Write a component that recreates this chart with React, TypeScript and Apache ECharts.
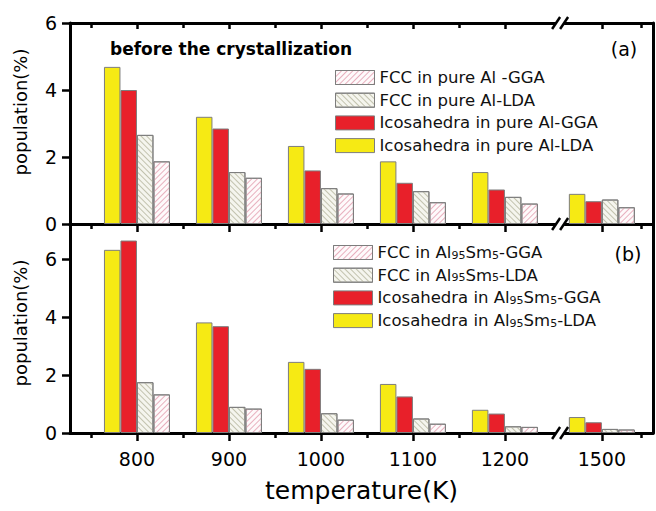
import React, { useEffect, useRef } from 'react';
import * as echarts from 'echarts';

// ---------- data ----------
const temperatures = ['800', '900', '1000', '1100', '1200', '1500'];

// panel (a): before the crystallization, pure Al
const seriesNamesA = [
  'Icosahedra in pure Al-LDA',
  'Icosahedra in pure Al-GGA',
  'FCC in pure Al-LDA',
  'FCC in pure Al -GGA',
];
const icoLdaA = [4.69, 3.2, 2.33, 1.87, 1.55, 0.9];
const icoGgaA = [4.0, 2.85, 1.6, 1.23, 1.03, 0.68];
const fccLdaA = [2.66, 1.55, 1.07, 0.98, 0.81, 0.73];
const fccGgaA = [1.87, 1.38, 0.91, 0.65, 0.61, 0.5];

// panel (b): Al95Sm5
const seriesNamesB = [
  'Icosahedra in Al95Sm5-LDA',
  'Icosahedra in Al95Sm5-GGA',
  'FCC in Al95Sm5-LDA',
  'FCC in Al95Sm5-GGA',
];
const icoLdaB = [6.31, 3.81, 2.45, 1.69, 0.8, 0.55];
const icoGgaB = [6.63, 3.68, 2.21, 1.26, 0.67, 0.37];
const fccLdaB = [1.75, 0.9, 0.68, 0.5, 0.23, 0.14];
const fccGgaB = [1.33, 0.84, 0.46, 0.32, 0.21, 0.12];

const yTickValues = [0, 2, 4, 6];

// ---------- layout helpers ----------
const FONT = 'DejaVu Sans';
const BREAK_AFTER = 4; // axis break after the 1200 K slot
const BREAK_SHIFT = 0.054;
const slotPos = (i: number) => i + (i > BREAK_AFTER ? BREAK_SHIFT : 0);
const BREAK_POS = 4.6;
const X_MIN = -0.728;
const X_MAX = 5.61;
const majorX = temperatures.map((_, i) => slotPos(i));
const minorX = [-0.5, 0.5, 1.5, 2.5, 3.5, slotPos(5) + 0.43];

const YELLOW = '#f6ea14';
const RED = '#e8202a';
const BORDER = '#7d7d7d';

const styles = [
  { color: YELLOW, borderColor: BORDER, borderWidth: 1 },
  { color: RED, borderColor: BORDER, borderWidth: 1 },
  {
    color: '#f5f5ee',
    borderColor: BORDER,
    borderWidth: 1,
    decal: {
      symbol: 'rect',
      symbolSize: 1,
      dashArrayX: [1, 0],
      dashArrayY: [0.8, 3],
      rotation: Math.PI / 4,
      color: '#c2c2ae',
    },
  },
  {
    color: '#fefafb',
    borderColor: BORDER,
    borderWidth: 1,
    decal: {
      symbol: 'rect',
      symbolSize: 1,
      dashArrayX: [1, 0],
      dashArrayY: [0.8, 3],
      rotation: -Math.PI / 4,
      color: '#e8b0be',
    },
  },
];

const toPairs = (vals: number[]) => vals.map((v, i) => [slotPos(i), v]);

const mkSeries = (names: string[], values: number[][], xIdx: number, yIdx: number) =>
  names.map((name, k) => ({
    type: 'bar',
    name,
    data: toPairs(values[k]),
    xAxisIndex: xIdx,
    yAxisIndex: yIdx,
    barWidth: 16.5,
    barGap: '0%',
    itemStyle: styles[k],
    emphasis: { disabled: true },
  }));

const LINE = { show: true, onZero: false, lineStyle: { color: '#000', width: 3 } };
const NOLINE = { show: false, onZero: false };

const xBase = (gridIndex: number, position: string) => ({
  type: 'value',
  gridIndex,
  position,
  min: X_MIN,
  max: X_MAX,
  splitLine: { show: false },
  axisLabel: { show: false },
  axisTick: { show: false },
  axisLine: NOLINE,
});

const tickOpt = (values: number[], length: number, inside: boolean) => ({
  show: true,
  customValues: values,
  length,
  inside,
  lineStyle: { color: '#000', width: 2.5 },
});

const yBase = (gridIndex: number, max: number, position: string, withLabels: boolean) => ({
  type: 'value',
  gridIndex,
  position,
  min: 0,
  max,
  splitLine: { show: false },
  axisLine: LINE,
  axisTick: withLabels ? tickOpt(yTickValues, 8, false) : { show: false },
  axisLabel: withLabels
    ? {
        show: true,
        customValues: yTickValues,
        margin: 13,
        fontFamily: FONT,
        fontSize: 19,
        color: '#000',
      }
    : { show: false },
});

const legendBase = {
  orient: 'vertical',
  icon: 'rect',
  itemWidth: 39,
  itemHeight: 14,
  itemGap: 5.7,
  padding: 0,
  selectedMode: false,
  itemStyle: { borderWidth: 1, borderColor: BORDER },
  textStyle: {
    fontFamily: FONT,
    fontSize: 16.5,
    color: '#111',
    lineHeight: 16,
    rich: {
      s: { fontFamily: FONT, fontSize: 11, color: '#111', verticalAlign: 'bottom', lineHeight: 12 },
    },
  },
};

const option: any = {
  animation: false,
  backgroundColor: '#fff',
  grid: [
    { left: 70, right: 3, top: 23, height: 201 },
    { left: 70, right: 3, top: 224, height: 209 },
  ],
  xAxis: [
    // panel a
    { ...xBase(0, 'bottom'), axisLine: LINE, axisTick: tickOpt(majorX, 8, false) },
    { ...xBase(0, 'bottom'), axisTick: tickOpt(minorX, 5, false) },
    { ...xBase(0, 'top'), axisLine: LINE, axisTick: tickOpt(majorX, 6, true) },
    { ...xBase(0, 'top'), axisTick: tickOpt(minorX, 5, true) },
    // panel b
    {
      ...xBase(1, 'bottom'),
      axisLine: LINE,
      axisTick: tickOpt(majorX, 8, false),
      axisLabel: {
        show: true,
        customValues: majorX,
        formatter: (v: number) => {
          const i = majorX.findIndex((p) => Math.abs(p - v) < 1e-6);
          return i >= 0 ? temperatures[i] : '';
        },
        margin: 16,
        fontFamily: FONT,
        fontSize: 19,
        color: '#000',
      },
      name: 'temperature(K)',
      nameLocation: 'middle',
      nameGap: 45,
      nameTextStyle: { fontFamily: FONT, fontSize: 25, color: '#000' },
    },
    { ...xBase(1, 'bottom'), axisTick: tickOpt(minorX, 5, false) },
    { ...xBase(1, 'top'), axisLine: LINE },
  ],
  yAxis: [
    yBase(0, 6, 'left', true),
    yBase(1, 7.2, 'left', true),
    yBase(0, 6, 'right', false),
    yBase(1, 7.2, 'right', false),
  ],
  legend: [
    {
      ...legendBase,
      left: 335,
      top: 69,
      data: [seriesNamesA[3], seriesNamesA[2], seriesNamesA[1], seriesNamesA[0]],
    },
    {
      ...legendBase,
      left: 333,
      top: 244,
      data: [seriesNamesB[3], seriesNamesB[2], seriesNamesB[1], seriesNamesB[0]],
      formatter: (name: string) => name.replace('Al95Sm5', 'Al{s|95}Sm{s|5}'),
    },
  ],
  series: [
    ...mkSeries(seriesNamesA, [icoLdaA, icoGgaA, fccLdaA, fccGgaA], 0, 0),
    ...mkSeries(seriesNamesB, [icoLdaB, icoGgaB, fccLdaB, fccGgaB], 4, 1),
  ],
  graphic: [
    {
      id: 'title-a',
      type: 'text',
      x: 110,
      y: 49,
      z: 50,
      style: {
        text: 'before the crystallization',
        fontFamily: FONT,
        fontWeight: 'bold',
        fontSize: 17,
        fill: '#000',
        align: 'left',
        verticalAlign: 'middle',
      },
    },
    {
      id: 'lab-a',
      type: 'text',
      x: 624,
      y: 49,
      z: 50,
      style: { text: '(a)', fontFamily: FONT, fontSize: 19, fill: '#000', align: 'center', verticalAlign: 'middle' },
    },
    {
      id: 'lab-b',
      type: 'text',
      x: 628,
      y: 254,
      z: 50,
      style: { text: '(b)', fontFamily: FONT, fontSize: 19, fill: '#000', align: 'center', verticalAlign: 'middle' },
    },
    {
      id: 'ytitle-a',
      type: 'text',
      x: 20,
      y: 112,
      rotation: Math.PI / 2,
      z: 50,
      style: { text: 'population(%)', fontFamily: FONT, fontSize: 18, fill: '#000', align: 'center', verticalAlign: 'middle' },
    },
    {
      id: 'ytitle-b',
      type: 'text',
      x: 20,
      y: 323,
      rotation: Math.PI / 2,
      z: 50,
      style: { text: 'population(%)', fontFamily: FONT, fontSize: 18, fill: '#000', align: 'center', verticalAlign: 'middle' },
    },
  ],
};

export default function App() {
  const ref = useRef<HTMLDivElement>(null);
  useEffect(() => {
    const chart = echarts.init(ref.current!, null, { renderer: 'svg' });
    chart.setOption(option);
    const bx = chart.convertToPixel({ xAxisIndex: 0 }, BREAK_POS) as number;
    const ys = [
      chart.convertToPixel({ yAxisIndex: 0 }, 6) as number,
      chart.convertToPixel({ yAxisIndex: 0 }, 0) as number,
      chart.convertToPixel({ yAxisIndex: 1 }, 0) as number,
    ];
    const marks: any[] = [];
    ys.forEach((y, k) => {
      marks.push({
        id: 'brk-bg-' + k,
        type: 'rect',
        z: 100,
        shape: { x: bx - 4, y: y - 3, width: 8, height: 6 },
        style: { fill: '#fff' },
      });
      [-4, 4].forEach((d, j) => {
        marks.push({
          id: 'brk-' + k + '-' + j,
          type: 'line',
          z: 101,
          shape: { x1: bx + d - 4, y1: y + 6, x2: bx + d + 4, y2: y - 6 },
          style: { stroke: '#000', lineWidth: 2.5 },
        });
      });
    });
    chart.setOption({ graphic: marks });
    return () => chart.dispose();
  }, []);
  return (
    <div
      ref={ref}
      style={{ position: 'fixed', left: 0, top: 0, width: 656, height: 511, background: '#fff' }}
    />
  );
}
